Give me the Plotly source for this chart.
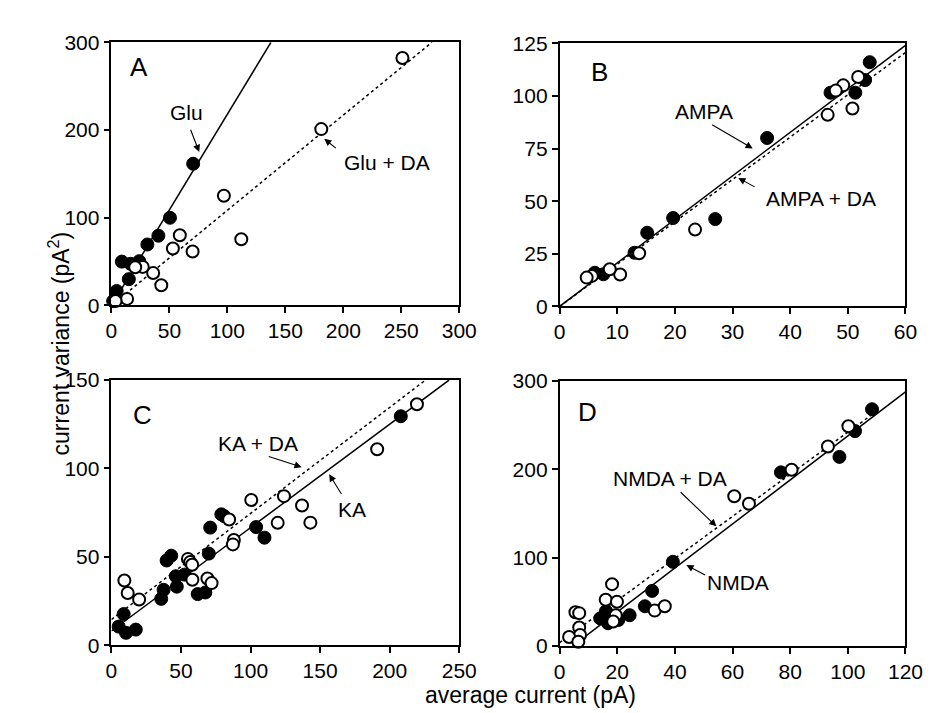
import plotly.graph_objects as go

# ---------------- data ----------------
# Panel A
glu_x = [70.5, 50.5, 40.5, 31, 24, 16.5, 9, 15, 4.5, 1.5]
glu_y = [161.5, 100, 79.5, 69.5, 50.5, 47.5, 50, 30, 16.5, 5]
gluda_x = [251, 181, 97, 112, 59, 53, 70, 36, 43, 27, 20.5, 13.5, 3.5]
gluda_y = [282, 201, 125, 75.5, 80, 65, 61.5, 37, 23, 44, 43.5, 7.5, 5]
# Panel B
ampa_x = [53.8, 53, 51.3, 47, 36, 27, 19.7, 15.2, 13, 7.6, 6.1]
ampa_y = [116, 107.5, 101.5, 101.5, 80, 41.5, 42, 35, 25.5, 15.3, 16]
ampada_x = [51.8, 49.2, 47.9, 46.5, 50.8, 23.5, 13.8, 10.5, 8.7, 5.6, 4.7]
ampada_y = [109, 105, 102.5, 91, 94, 36.5, 25.3, 15.2, 17.7, 14.5, 13.7]
# Panel C
ka_x = [208, 110, 104, 71, 79, 81, 70, 67.5, 62, 52.6, 46.3, 47, 43, 39.7, 37.5, 35.8, 8.8, 5.2, 10.5, 17.5]
ka_y = [129.5, 60.8, 66.8, 66.5, 74, 73, 51.8, 29.8, 28.9, 39.9, 39, 33.1, 50.6, 47.9, 31.3, 26.2, 17.6, 10.5, 7, 8.8]
kada_x = [219.6, 191, 124, 100.5, 137, 119.5, 143, 84.6, 88, 87.3, 55, 56.6, 58, 58.2, 69, 72, 9.3, 11.7, 19.9]
kada_y = [136.3, 110.8, 84.3, 82.1, 79, 69.2, 69.3, 71.1, 59.5, 57, 48.8, 47, 45.5, 37, 37.7, 35.1, 36.6, 29.5, 25.8]
# Panel D
nmda_x = [108.4, 102.5, 97.1, 76.8, 39.3, 32.1, 29.6, 24.3, 20.4, 14.1, 16.1, 16.8]
nmda_y = [268, 243.3, 214.1, 196.6, 95.4, 62.5, 45.1, 35, 29.6, 31.4, 39.6, 25.9]
nmdada_x = [100.2, 93.1, 80.5, 60.6, 65.7, 18.2, 16, 19.9, 19.5, 18.6, 33, 36.5, 5.5, 6.8, 6.8, 7.1, 3.3, 6.5]
nmdada_y = [248.8, 225.8, 199.5, 169.5, 161.1, 70.1, 52.5, 50.2, 35, 27.8, 40.2, 45.1, 38.3, 37.3, 21, 12.6, 10.4, 5]

# fitted lines: (slope, intercept, x_start, x_end)
fit_glu = (2.18, 0.0, 0.0, 137.6)
fit_gluda = (1.085, 0.0, 0.0, 276.5)
fit_ampa = (2.067, 0.0, 0.0, 60.0)
fit_ampada = (2.01, 0.0, 0.0, 60.0)
fit_ka = (0.585, 8.0, 0.0, 242.7)
fit_kada = (0.60, 14.5, 0.0, 225.8)
fit_nmda = (2.49, -11.2, 4.5, 120.0)
fit_nmdada = (2.38, 4.0, 0.0, 110.0)

panel_letters = ["A", "B", "C", "D"]
FONT = "Liberation Sans, Arial, Helvetica, sans-serif"

fig = go.Figure()


def add_panel(n, fx, fy, ox, oy, fit_s, fit_d):
    xa = "x" if n == 1 else f"x{n}"
    ya = "y" if n == 1 else f"y{n}"
    for fit, dash in ((fit_s, "solid"), (fit_d, "dot")):
        m, b, x0, x1 = fit
        fig.add_trace(go.Scatter(x=[x0, x1], y=[m * x0 + b, m * x1 + b], mode="lines",
                                 line=dict(color="black", width=1.5, dash=dash),
                                 xaxis=xa, yaxis=ya, showlegend=False, hoverinfo="skip"))
    fig.add_trace(go.Scatter(x=fx, y=fy, mode="markers", cliponaxis=False,
                             marker=dict(size=13, color="black", line=dict(color="black", width=1)),
                             xaxis=xa, yaxis=ya, showlegend=False))
    fig.add_trace(go.Scatter(x=ox, y=oy, mode="markers", cliponaxis=False,
                             marker=dict(size=12, color="white", line=dict(color="black", width=2)),
                             xaxis=xa, yaxis=ya, showlegend=False))


add_panel(1, glu_x, glu_y, gluda_x, gluda_y, fit_glu, fit_gluda)
add_panel(2, ampa_x, ampa_y, ampada_x, ampada_y, fit_ampa, fit_ampada)
add_panel(3, ka_x, ka_y, kada_x, kada_y, fit_ka, fit_kada)
add_panel(4, nmda_x, nmda_y, nmdada_x, nmdada_y, fit_nmda, fit_nmdada)

W, H = 933, 713


def xdom(a, b):
    return [a / W, b / W]


def ydom(top, bottom):
    return [1 - bottom / H, 1 - top / H]


axis_common = dict(showline=True, linecolor="black", linewidth=1.5, mirror=True,
                   ticks="outside", ticklen=6, tickwidth=1.5, tickcolor="black",
                   showgrid=False, zeroline=False,
                   tickfont=dict(family=FONT, size=21, color="black"))

fig.update_layout(
    width=W, height=H, margin=dict(l=0, r=0, t=0, b=0),
    paper_bgcolor="white", plot_bgcolor="white",
    xaxis=dict(domain=xdom(100, 457), range=[0, 300], tickvals=[0, 50, 100, 150, 200, 250, 300], anchor="y", **axis_common),
    yaxis=dict(domain=ydom(23, 295), range=[0, 300], tickvals=[0, 100, 200, 300], anchor="x", **axis_common),
    xaxis2=dict(domain=xdom(560, 915), range=[0, 60], tickvals=[0, 10, 20, 30, 40, 50, 60], anchor="y2", **axis_common),
    yaxis2=dict(domain=ydom(24, 296), range=[0, 125], tickvals=[0, 25, 50, 75, 100, 125], anchor="x2", **axis_common),
    xaxis3=dict(domain=xdom(100, 457), range=[0, 250], tickvals=[0, 50, 100, 150, 200, 250], anchor="y3", **axis_common),
    yaxis3=dict(domain=ydom(372, 646), range=[0, 150], tickvals=[0, 50, 100, 150], anchor="x3", **axis_common),
    xaxis4=dict(domain=xdom(560, 915), range=[0, 120], tickvals=[0, 20, 40, 60, 80, 100, 120], anchor="y4", **axis_common),
    yaxis4=dict(domain=ydom(373, 647), range=[0, 300], tickvals=[0, 100, 200, 300], anchor="x4", **axis_common),
)

anns = []
# panel letters
letter_pos = [(1, 24, 272), (2, 7.0, 111.5), (3, 22.2, 130), (4, 9.6, 265)]
for (n, x, y), L in zip(letter_pos, panel_letters):
    xa = "x" if n == 1 else f"x{n}"
    ya = "y" if n == 1 else f"y{n}"
    anns.append(dict(x=x, y=y, xref=xa, yref=ya, text=L, showarrow=False,
                     font=dict(family=FONT, size=26, color="black")))

# labels: (panel, text, tx, ty, tail_x, tail_y, head_x, head_y)
labels = [
    (1, "Glu", 65, 220, 67.8, 202, 75.7, 175),
    (1, "Glu + DA", 238, 163, 194.8, 178, 183.6, 190),
    (2, "AMPA", 25.1, 92.4, 26.2, 86.7, 33.5, 75),
    (2, "AMPA + DA", 45.4, 51.5, 34.1, 56.4, 31.0, 61),
    (3, "KA + DA", 105, 114, 112, 107, 136.7, 100.7),
    (3, "KA", 173, 77, 166, 84.7, 156.5, 96.7),
    (4, "NMDA + DA", 38.4, 190, 41.5, 175.7, 54.4, 135.5),
    (4, "NMDA", 62, 71.6, 51, 79.6, 44, 91.7),
]
for n, t, tx, ty, ax_, ay_, hx, hy in labels:
    xa = "x" if n == 1 else f"x{n}"
    ya = "y" if n == 1 else f"y{n}"
    anns.append(dict(x=tx, y=ty, xref=xa, yref=ya, text=t, showarrow=False,
                     font=dict(family=FONT, size=21, color="black")))
    anns.append(dict(x=hx, y=hy, xref=xa, yref=ya, ax=ax_, ay=ay_, axref=xa, ayref=ya,
                     text="", showarrow=True, arrowhead=2, arrowsize=1.3, arrowwidth=1.1,
                     arrowcolor="black"))

# axis titles
anns.append(dict(x=530 / W, y=1 - 682 / H, xref="paper", yref="paper", yanchor="top",
                 text="average current (pA)",
                 showarrow=False, font=dict(family=FONT, size=23, color="black")))
anns.append(dict(x=29 / W, y=1 - 334 / H, xref="paper", yref="paper", text="current variance (pA<sup>2</sup>)",
                 showarrow=False, textangle=-90, font=dict(family=FONT, size=23, color="black")))

fig.update_layout(annotations=anns)
fig.write_html("out.html")
